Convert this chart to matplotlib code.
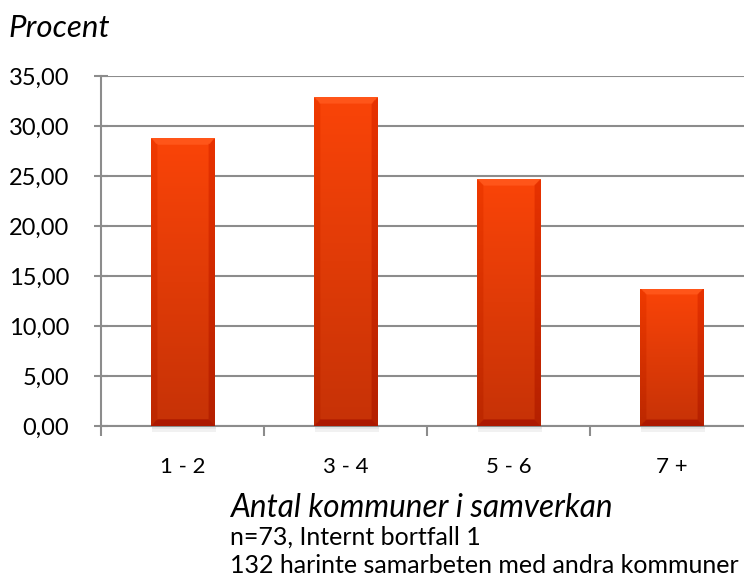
import numpy as np
import matplotlib.pyplot as plt
from matplotlib.patches import Rectangle

categories = ['1 - 2', '3 - 4', '5 - 6', '7 +']
percent = [28.77, 32.88, 24.66, 13.70]
y_ticks = [0, 5, 10, 15, 20, 25, 30, 35]

plt.rcParams['font.family'] = ['Lato', 'DejaVu Sans']

fig = plt.figure(figsize=(7.44, 5.88), dpi=100)
ax = fig.add_axes([101 / 744, (588 - 426) / 588, 652 / 744, 350 / 588])

x = np.arange(len(categories))
width = 0.39
grid_color = '#8c8c8c'


def bar_image(h_px, w_px):
    # vertical orange-red gradient with a bevelled rim
    rows, cols = 300, 80
    t = np.linspace(0, 1, rows)[:, None] * np.ones((1, cols))
    top = np.array([250, 68, 8]) / 255
    bot = np.array([198, 50, 6]) / 255
    img = top * (1 - t[..., None]) + bot * t[..., None]
    yy = np.linspace(0, h_px, rows)[:, None] * np.ones((1, cols))
    xx = np.ones((rows, 1)) * np.linspace(0, w_px, cols)[None, :]
    bev = 6
    dists = np.stack([yy, h_px - yy, xx, w_px - xx])
    edge = dists.min(axis=0) < bev
    which = np.argmin(dists, axis=0)
    shade = np.zeros((rows, cols))
    shade[(which == 0) & edge] = 0.07
    shade[(which == 1) & edge] = -0.10
    shade[(which == 2) & edge] = -0.04
    shade[(which == 3) & edge] = -0.07
    return np.clip(img + shade[..., None], 0, 1)


for xi, v in zip(x, percent):
    # soft shadow under the bar
    for k, a in enumerate([0.45, 0.25]):
        ax.add_patch(Rectangle((xi - width / 2 + 0.01, -0.3 * (k + 1)), width, 0.3,
                               facecolor='#c8c8c8', edgecolor='none', zorder=1.5,
                               clip_on=False, alpha=a))
    rect = Rectangle((xi - width / 2, 0), width, v, facecolor='none',
                     edgecolor='none', zorder=3)
    ax.add_patch(rect)
    img = bar_image(v * 10, width * 163)
    im = ax.imshow(img, extent=(xi - width / 2, xi + width / 2, 0, v),
                   aspect='auto', origin='upper', zorder=3, interpolation='bilinear')
    im.set_clip_path(rect)

ax.set_xlim(-0.5, len(categories) - 0.5)
ax.set_ylim(0, 35)
ax.set_yticks(y_ticks)
ax.set_yticklabels([f'{t:.2f}'.replace('.', ',') for t in y_ticks], fontsize=17)
ax.set_xticks(x)
ax.set_xticklabels(categories, fontsize=16)
ax.set_xticks(np.arange(len(categories)) - 0.5, minor=True)
ax.tick_params(axis='x', which='major', length=0, pad=22)
ax.tick_params(axis='x', which='minor', length=7, color=grid_color, width=1.5, direction='out')
ax.tick_params(axis='y', length=10, color=grid_color, width=1.5, direction='inout', pad=18)

ax.grid(axis='y', color=grid_color, linewidth=1.5, zorder=1)
ax.set_axisbelow(True)
for s in ['top', 'right']:
    ax.spines[s].set_visible(False)
for s in ['left', 'bottom']:
    ax.spines[s].set_color(grid_color)
    ax.spines[s].set_linewidth(1.5)

fig.text(8 / 744, 1 - 37 / 588, 'Procent', fontsize=22.5, style='italic', va='baseline')
fig.text(230 / 744, 1 - 517 / 588, 'Antal kommuner i samverkan', fontsize=22.7,
         style='italic', va='baseline')
fig.text(230 / 744, 1 - 545 / 588, 'n=73, Internt bortfall 1', fontsize=18,
         va='baseline')
fig.text(230 / 744, 1 - 573 / 588, '132 harinte samarbeten med andra kommuner',
         fontsize=18, va='baseline')

fig.savefig('out.png', dpi=100)
